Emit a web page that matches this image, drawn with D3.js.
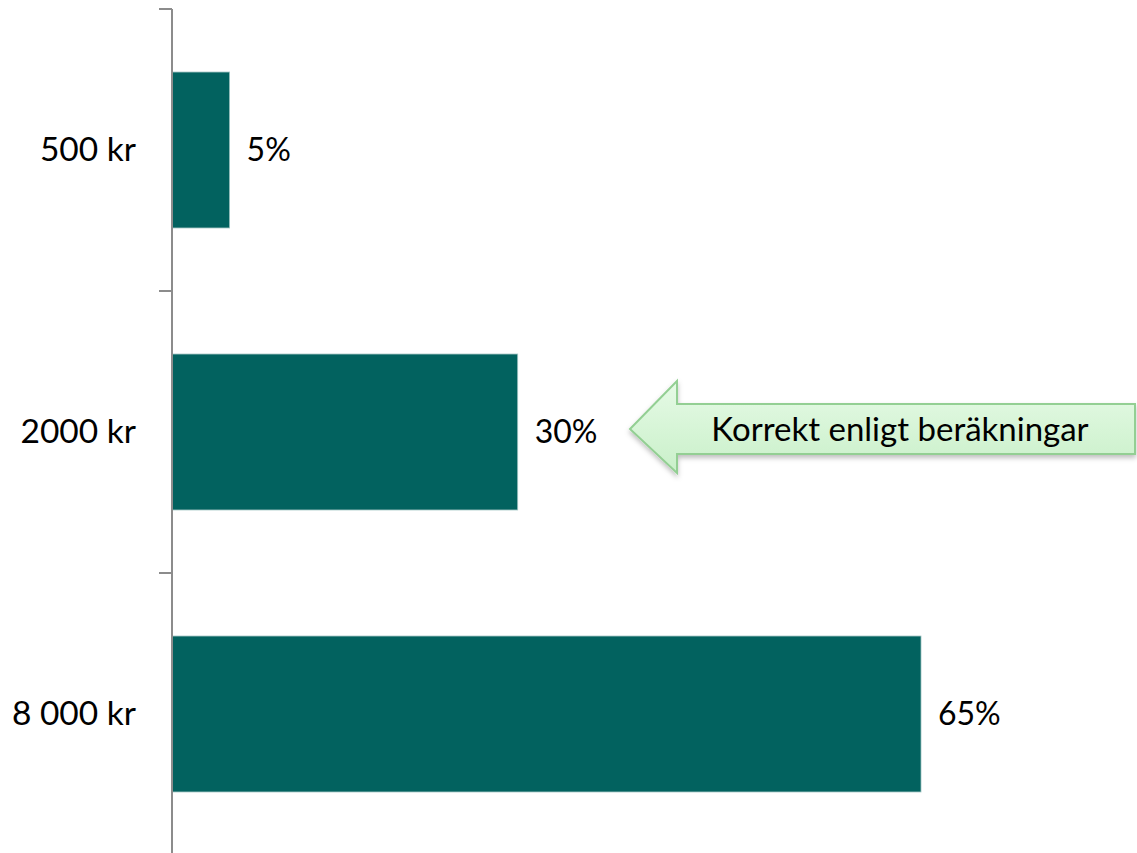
<!DOCTYPE html>
<html>
<head>
<meta charset="utf-8">
<script src="https://cdn.jsdelivr.net/npm/d3@7"></script>
<style>
  html, body { margin: 0; padding: 0; background: #fff; }
  svg { display: block; }
  text { font-family: Lato, "Open Sans", "Liberation Sans", sans-serif; fill: #000; }
</style>
</head>
<body>
<svg id="chart" width="1137" height="853"></svg>
<script>
const categories = ["500 kr", "2000 kr", "8 000 kr"];
const values = [5, 30, 65];
const valueLabels = ["5%", "30%", "65%"];
const calloutText = "Korrekt enligt beräkningar";
const calloutCategory = "2000 kr";

const svg = d3.select("#chart");
const W = 1137, H = 853;
const axisX = 172;

const y = d3.scaleBand().domain(categories).range([9, 855]).paddingInner(0.447).paddingOuter(0.2235);
const x = d3.scaleLinear().domain([0, 65]).range([axisX, 921]);

// defs
const defs = svg.append("defs");
const grad = defs.append("linearGradient").attr("id", "arrowGrad").attr("x1", 0).attr("y1", 0).attr("x2", 0).attr("y2", 1);
grad.append("stop").attr("offset", "0%").attr("stop-color", "#e6fae6");
grad.append("stop").attr("offset", "100%").attr("stop-color", "#c9f0c9");
const filt = defs.append("filter").attr("id", "shadow").attr("x", "-10%").attr("y", "-20%").attr("width", "120%").attr("height", "150%");
filt.append("feDropShadow").attr("dx", 0).attr("dy", 3).attr("stdDeviation", 2.5).attr("flood-color", "#000").attr("flood-opacity", 0.25);

// bars
svg.append("g").selectAll("rect").data(categories).join("rect")
  .attr("x", axisX)
  .attr("y", d => y(d))
  .attr("width", (d, i) => x(values[i]) - axisX)
  .attr("height", y.bandwidth())
  .attr("fill", "#02625f")
  .attr("stroke", "#9fc3c1")
  .attr("stroke-width", 0.8);

// value labels
svg.append("g").selectAll("text").data(categories).join("text")
  .attr("x", (d, i) => x(values[i]) + 17)
  .attr("y", d => y(d) + y.bandwidth() / 2)
  .attr("dy", "0.35em")
  .attr("font-size", 32)
  .text((d, i) => valueLabels[i]);

// axis
const axis = d3.axisLeft(y).tickSize(0).tickPadding(36);
const gAxis = svg.append("g").attr("transform", `translate(${axisX},0)`).call(axis);
gAxis.select(".domain").remove();
gAxis.selectAll("text").attr("font-size", 33.5).attr("font-family", "Lato, 'Open Sans', sans-serif").attr("fill", "#000");
svg.append("line").attr("x1", axisX).attr("x2", axisX).attr("y1", 9).attr("y2", H)
  .attr("stroke", "#8c8c8c").attr("stroke-width", 2);
// tick marks at band boundaries
const step = y.step();
const bounds = [0, 1, 2, 3].map(i => y(categories[0]) - step * y.paddingInner() / 2 + i * step);
svg.append("g").selectAll("line").data(bounds).join("line")
  .attr("x1", axisX - 13).attr("x2", axisX).attr("y1", d => d).attr("y2", d => d)
  .attr("stroke", "#8c8c8c").attr("stroke-width", 2);

// callout arrow
const cy = y(calloutCategory) + y.bandwidth() / 2 - 3;
const tipX = 630, headX = 677, rightX = 1135;
const pts = [
  [tipX, cy],
  [headX, cy - 48],
  [headX, cy - 25],
  [rightX, cy - 25],
  [rightX, cy + 25],
  [headX, cy + 25],
  [headX, cy + 44],
];
svg.append("path")
  .attr("d", d3.line()(pts) + "Z")
  .attr("fill", "url(#arrowGrad)")
  .attr("stroke", "#93cf93")
  .attr("stroke-width", 2)
  .attr("filter", "url(#shadow)");
svg.append("text")
  .attr("x", 900)
  .attr("y", cy)
  .attr("dy", "0.35em")
  .attr("text-anchor", "middle")
  .attr("font-size", 33)
  .text(calloutText);
</script>
</body>
</html>
